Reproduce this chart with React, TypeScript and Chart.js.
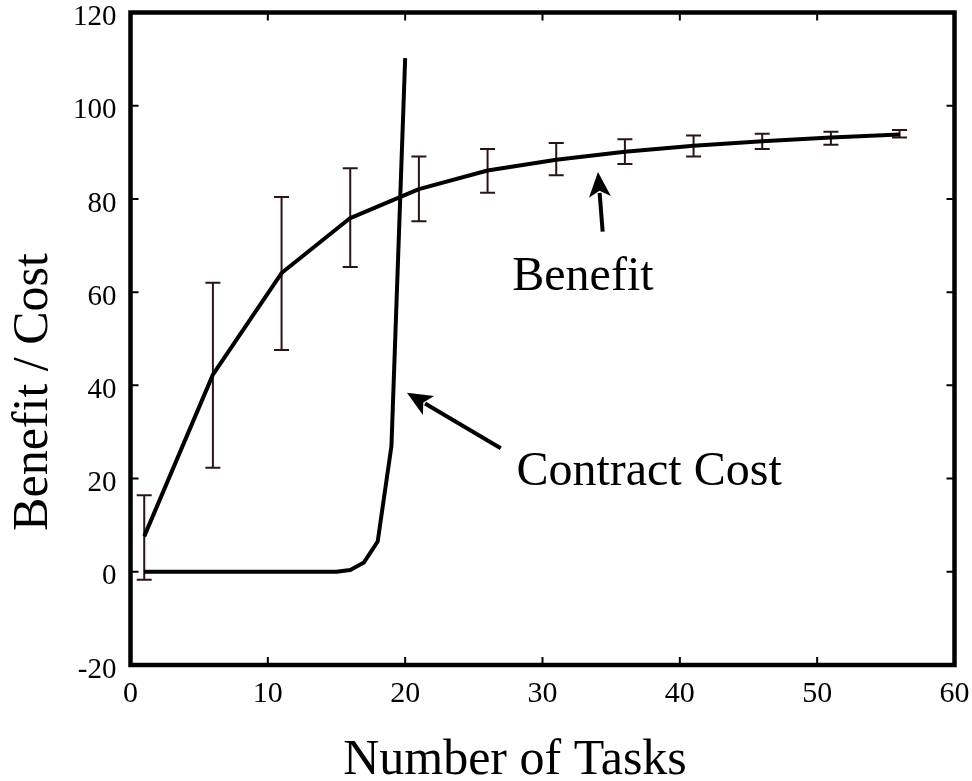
import React, { useEffect, useRef } from 'react';
import { Chart, registerables } from 'chart.js';

Chart.register(...registerables);

// ---- data ----
const benefitTasks = [1, 6, 11, 16, 21, 26, 31, 36, 41, 46, 51, 56];
const benefitMean = [7.6, 42.3, 64.1, 75.9, 82.1, 86.1, 88.4, 90.1, 91.4, 92.4, 93.2, 93.8];
const benefitHigh = [16.4, 62.0, 80.4, 86.6, 89.1, 90.7, 92.0, 92.8, 93.6, 94.0, 94.4, 94.8];
const benefitLow = [-1.7, 22.3, 47.6, 65.4, 75.2, 81.3, 85.1, 87.5, 89.1, 90.7, 91.6, 93.2];

const costTasks = [1, 2, 3, 4, 5, 6, 7, 8, 9, 10, 11, 12, 13, 14, 15, 16, 17, 18, 19, 20];
const costValues = [0, 0, 0, 0, 0, 0, 0, 0, 0, 0, 0, 0, 0, 0, 0, 0.4, 2.0, 6.5, 27, 110.2];

const xTicks = [0, 10, 20, 30, 40, 50, 60];
const yTicks = [-20, 0, 20, 40, 60, 80, 100, 120];

const xTitle = 'Number of Tasks';
const yTitle = 'Benefit / Cost';

// annotation texts and arrows (in data coordinates)
const labelTexts = ['Benefit', 'Contract Cost'];
const labelX = [27.8, 28.1];
const labelY = [60.5, 18.6];
const arrowTailX = [34.38, 26.96];
const arrowTailY = [73.0, 26.5];
const arrowTipX = [34.04, 20.13];
const arrowTipY = [85.8, 38.4];

const SERIF = '"Liberation Serif", "Times New Roman", serif';

const customPlugin = {
  id: 'customDecor',
  beforeDatasetsDraw(chart: any) {
    const { ctx, scales } = chart;
    const xs = scales.x;
    const ys = scales.y;
    ctx.save();
    ctx.strokeStyle = '#2a1414';
    ctx.lineWidth = 2;
    const cap = 7.5;
    for (let i = 0; i < benefitTasks.length; i++) {
      const px = xs.getPixelForValue(benefitTasks[i]);
      const pHi = ys.getPixelForValue(benefitHigh[i]);
      const pLo = ys.getPixelForValue(benefitLow[i]);
      ctx.beginPath();
      ctx.moveTo(px, pHi);
      ctx.lineTo(px, pLo);
      ctx.moveTo(px - cap, pHi);
      ctx.lineTo(px + cap, pHi);
      ctx.moveTo(px - cap, pLo);
      ctx.lineTo(px + cap, pLo);
      ctx.stroke();
    }
    ctx.restore();
  },
  afterDatasetsDraw(chart: any) {
    const { ctx, scales, chartArea } = chart;
    const xs = scales.x;
    const ys = scales.y;
    const { left, right, top, bottom } = chartArea;
    ctx.save();
    // inward ticks on all four sides
    ctx.strokeStyle = '#000';
    ctx.lineWidth = 2;
    const tl = 8;
    ctx.beginPath();
    xTicks.forEach((v) => {
      const px = xs.getPixelForValue(v);
      ctx.moveTo(px, bottom);
      ctx.lineTo(px, bottom - tl);
      ctx.moveTo(px, top);
      ctx.lineTo(px, top + tl);
    });
    yTicks.forEach((v) => {
      const py = ys.getPixelForValue(v);
      ctx.moveTo(left, py);
      ctx.lineTo(left + tl, py);
      ctx.moveTo(right, py);
      ctx.lineTo(right - tl, py);
    });
    ctx.stroke();
    // frame
    ctx.lineWidth = 4.5;
    ctx.strokeRect(left, top, right - left, bottom - top);

    // arrows
    ctx.fillStyle = '#000';
    ctx.strokeStyle = '#000';
    for (let i = 0; i < arrowTipX.length; i++) {
      const x0 = xs.getPixelForValue(arrowTailX[i]);
      const y0 = ys.getPixelForValue(arrowTailY[i]);
      const x1 = xs.getPixelForValue(arrowTipX[i]);
      const y1 = ys.getPixelForValue(arrowTipY[i]);
      const ang = Math.atan2(y1 - y0, x1 - x0);
      const headLen = 25;
      const headHalf = 11;
      const bx = x1 - headLen * Math.cos(ang);
      const by = y1 - headLen * Math.sin(ang);
      ctx.lineWidth = 4;
      ctx.beginPath();
      ctx.moveTo(x0, y0);
      ctx.lineTo(bx + 4 * Math.cos(ang), by + 4 * Math.sin(ang));
      ctx.stroke();
      const nx = -Math.sin(ang);
      const ny = Math.cos(ang);
      const notch = 6;
      ctx.beginPath();
      ctx.moveTo(x1, y1);
      ctx.lineTo(bx + nx * headHalf, by + ny * headHalf);
      ctx.lineTo(bx + notch * Math.cos(ang), by + notch * Math.sin(ang));
      ctx.lineTo(bx - nx * headHalf, by - ny * headHalf);
      ctx.closePath();
      ctx.fill();
    }

    // annotation labels
    ctx.font = `48px ${SERIF}`;
    ctx.textAlign = 'left';
    ctx.textBaseline = 'alphabetic';
    for (let i = 0; i < labelTexts.length; i++) {
      ctx.fillText(labelTexts[i], xs.getPixelForValue(labelX[i]), ys.getPixelForValue(labelY[i]));
    }

    // axis titles
    ctx.font = `50px ${SERIF}`;
    ctx.textAlign = 'center';
    ctx.fillText(xTitle, 515, 774);
    ctx.save();
    ctx.translate(47, 392);
    ctx.rotate(-Math.PI / 2);
    ctx.fillText(yTitle, 0, 0);
    ctx.restore();
    ctx.restore();
  },
};

export default function App() {
  const canvasRef = useRef<HTMLCanvasElement | null>(null);

  useEffect(() => {
    const canvas = canvasRef.current;
    if (!canvas) return;
    const chart = new Chart(canvas, {
      type: 'line',
      data: {
        datasets: [
          {
            label: 'Benefit',
            data: benefitTasks.map((x, i) => ({ x, y: benefitMean[i] })),
            borderColor: '#000',
            borderWidth: 4,
            pointRadius: 0,
            borderJoinStyle: 'round',
            borderCapStyle: 'butt',
            fill: false,
            tension: 0,
          },
          {
            label: 'Contract Cost',
            data: costTasks.map((x, i) => ({ x, y: costValues[i] })),
            borderColor: '#000',
            borderWidth: 4,
            pointRadius: 0,
            borderJoinStyle: 'round',
            fill: false,
            tension: 0,
          },
        ],
      },
      options: {
        animation: false,
        responsive: false,
        devicePixelRatio: 1,
        layout: { padding: { top: 12.5, right: 17.5, left: 0, bottom: 0 } },
        plugins: {
          legend: { display: false },
          tooltip: { enabled: false },
          title: { display: false },
        },
        scales: {
          x: {
            type: 'linear',
            min: 0,
            max: 60,
            afterBuildTicks: (scale: any) => {
              scale.ticks = xTicks.map((v) => ({ value: v }));
            },
            afterFit: (scale: any) => {
              scale.height = 116;
              scale.paddingLeft = 0;
              scale.paddingRight = 0;
              scale.paddingTop = 0;
              scale.paddingBottom = 0;
            },
            grid: { display: false, drawTicks: false },
            border: { display: false },
            ticks: {
              color: '#000',
              font: { family: SERIF, size: 30 },
              padding: 11,
              maxRotation: 0,
              autoSkip: false,
            },
          },
          y: {
            type: 'linear',
            min: -20,
            max: 120,
            afterBuildTicks: (scale: any) => {
              scale.ticks = yTicks.map((v) => ({ value: v }));
            },
            afterFit: (scale: any) => {
              scale.width = 130.5;
              scale.paddingLeft = 0;
              scale.paddingRight = 0;
              scale.paddingTop = 0;
              scale.paddingBottom = 0;
            },
            grid: { display: false, drawTicks: false },
            border: { display: false },
            ticks: {
              color: '#000',
              font: { family: SERIF, size: 29 },
              padding: 14,
              labelOffset: 5,
              autoSkip: false,
            },
          },
        },
      },
      plugins: [customPlugin],
    } as any);
    return () => chart.destroy();
  }, []);

  return (
    <div style={{ position: 'absolute', left: 0, top: 0, width: 972, height: 781, background: '#fff' }}>
      <canvas ref={canvasRef} width={972} height={781} style={{ display: 'block', width: 972, height: 781 }} />
    </div>
  );
}
